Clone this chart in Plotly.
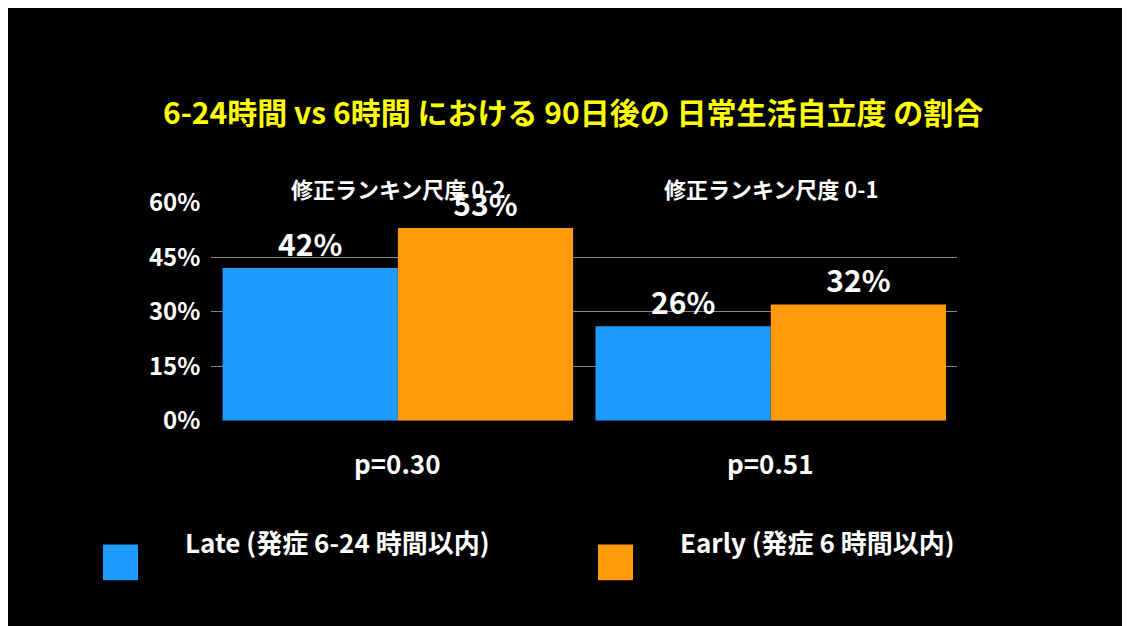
import plotly.graph_objects as go

groups = ["修正ランキン尺度 0-2", "修正ランキン尺度 0-1"]
late = [42, 26]
early = [53, 32]
pvals = ["p=0.30", "p=0.51"]
series_names = ["Late (発症 6-24 時間以内)", "Early (発症 6 時間以内)"]
colors = ["#1E9BFF", "#FF9A0A"]
ticks = [0, 15, 30, 45, 60]

F = "Noto Sans CJK JP"
fig = go.Figure()
for name, vals, c in zip(series_names, [late, early], colors):
    fig.add_bar(x=groups, y=vals, name=name, marker=dict(color=c, line=dict(width=0)),
                text=[f"{v}%" for v in vals], textposition="outside",
                textfont=dict(color="white", size=30, family=F, weight="bold"), cliponaxis=False)

fig.update_layout(
    width=1130, height=626, paper_bgcolor="black", plot_bgcolor="black",
    margin=dict(l=0, r=0, t=0, b=0), showlegend=False,
    barmode="group", bargap=0.06, bargroupgap=0.0,
    font=dict(family=F, color="white"),
    xaxis=dict(domain=[0.18, 0.84], showticklabels=False, showgrid=False, zeroline=False),
    yaxis=dict(domain=[(626-416)/626, (626-185)/626], range=[0, 60], tickvals=ticks,
               ticktext=[f"{t}%" for t in ticks],
               tickfont=dict(size=24, color="white", family=F, weight="bold"),
               gridcolor="#888", gridwidth=1, zeroline=False, ticklabelstandoff=10),
)

ann = [dict(text="6-24時間 vs 6時間 における 90日後の 日常生活自立度 の割合", x=0.5, y=1-62/626,
            xref="paper", yref="paper", showarrow=False,
            font=dict(size=30, color="#FFFF00", family=F, weight="bold"))]
for i, g in enumerate(groups):
    ann.append(dict(text=g, x=g, y=1-150/626, xref="x", yref="paper", showarrow=False,
                    font=dict(size=22, color="white", family=F, weight="bold")))
    ann.append(dict(text=pvals[i], x=g, y=1-482/626, xref="x", yref="paper", showarrow=False,
                    font=dict(size=26, color="white", family=F, weight="bold")))
legx = [(95, 175), (590, 670)]
for (sx, tx), name, c in zip(legx, series_names, colors):
    fig.add_shape(type="rect", xref="paper", yref="paper", x0=sx/1130, x1=(sx+35)/1130,
                  y0=1-585/626, y1=1-547/626, fillcolor=c, line_width=0)
    ann.append(dict(text=name, x=tx/1130, y=1-566/626, xref="paper", yref="paper",
                    xanchor="left", showarrow=False,
                    font=dict(size=26, color="white", family=F, weight="bold")))
fig.update_layout(annotations=ann)
fig.write_html("out.html")
